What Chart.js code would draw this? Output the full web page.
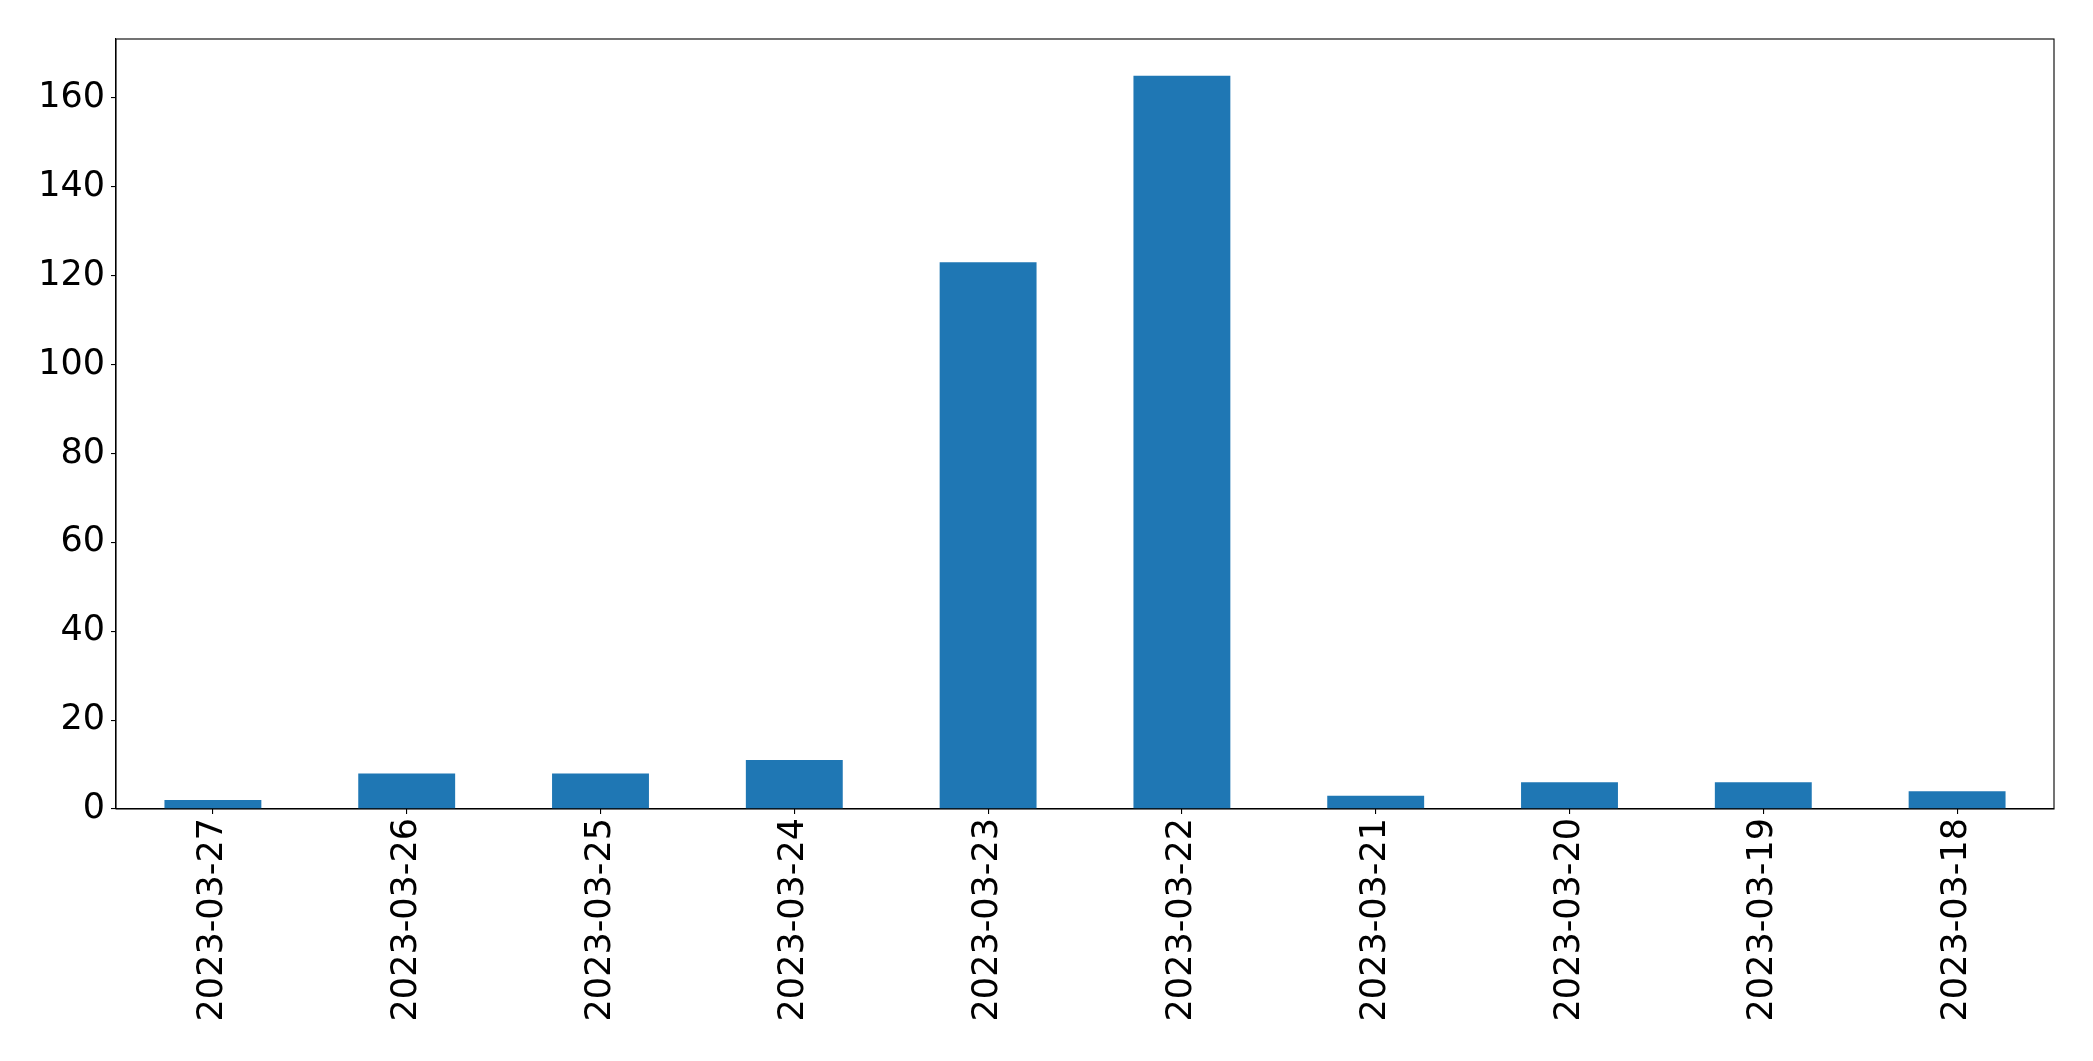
<!DOCTYPE html>
<html>
<head>
<meta charset="utf-8">
<script src="https://cdn.jsdelivr.net/npm/chart.js@4"></script>
<style>
  html, body { margin: 0; padding: 0; background: #ffffff; }
  #wrap { width: 2093px; height: 1061px; position: relative; }
</style>
</head>
<body>
<div id="wrap"><canvas id="c" width="2093" height="1061"></canvas></div>
<script>
const categories = ['2023-03-27', '2023-03-26', '2023-03-25', '2023-03-24', '2023-03-23',
                    '2023-03-22', '2023-03-21', '2023-03-20', '2023-03-19', '2023-03-18'];
const counts = [2, 8, 8, 11, 123, 165, 3, 6, 6, 4];
const yTicks = [0, 20, 40, 60, 80, 100, 120, 140, 160];

const FONT = "'DejaVu Sans', sans-serif";

const framePlugin = {
  id: 'frame',
  afterDatasetsDraw(chart) {
    const { ctx, chartArea: a } = chart;
    ctx.save();
    ctx.strokeStyle = '#000';
    ctx.lineWidth = 1.1;
    ctx.strokeRect(a.left, a.top, a.right - a.left, a.bottom - a.top);
    ctx.restore();
  }
};

new Chart(document.getElementById('c'), {
  type: 'bar',
  data: {
    labels: categories,
    datasets: [{
      data: counts,
      backgroundColor: '#1f77b4',
      borderWidth: 0,
      barPercentage: 0.5,
      categoryPercentage: 1.0
    }]
  },
  options: {
    responsive: false,
    animation: false,
    layout: { padding: { left: 0, right: 39, top: 39, bottom: 0 } },
    plugins: { legend: { display: false }, tooltip: { enabled: false } },
    scales: {
      x: {
        offset: true,
        grid: { display: true, offset: false, drawOnChartArea: false, drawTicks: true, tickLength: 5, tickColor: '#000', lineWidth: 1.1 },
        border: { display: true, color: '#000', width: 1.1 },
        ticks: {
          color: '#000',
          font: { family: FONT, size: 35 },
          minRotation: 90, maxRotation: 90,
          padding: 4,
          autoSkip: false
        },
        afterFit(scale) { scale.height = 1061 - 809; }
      },
      y: {
        min: 0,
        max: 173.25,
        afterBuildTicks(scale) { scale.ticks = yTicks.map(v => ({ value: v })); },
        grid: { display: true, drawOnChartArea: false, drawTicks: true, tickLength: 5, tickColor: '#000', lineWidth: 1.1 },
        border: { display: true, color: '#000', width: 1.1 },
        ticks: {
          color: '#000',
          font: { family: FONT, size: 35 },
          padding: 6
        },
        afterFit(scale) { scale.width = 116; }
      }
    }
  },
  plugins: [framePlugin]
});
</script>
</body>
</html>
